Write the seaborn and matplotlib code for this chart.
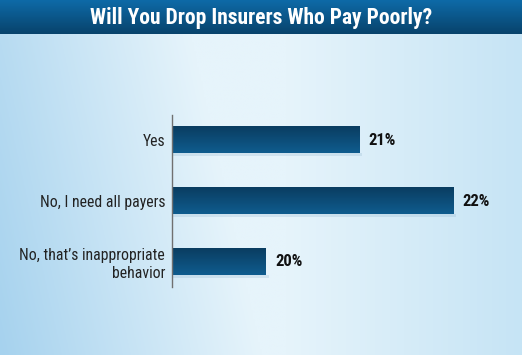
import numpy as np
import pandas as pd
import matplotlib
matplotlib.use("Agg")
import matplotlib.pyplot as plt
from matplotlib.colors import LinearSegmentedColormap
import seaborn as sns
from matplotlib import font_manager

title = "Will You Drop Insurers Who Pay Poorly?"
categories = ["Yes", "No, I need all payers", "No, that\u2019s inappropriate\nbehavior"]
values = [21, 22, 20]
value_labels = ["21%", "22%", "20%"]

sns.set_theme(style="white")
names = {f.name for f in font_manager.fontManager.ttflist}
fam = [n for n in ["Liberation Sans Narrow", "DejaVu Sans Condensed", "Roboto Condensed"] if n in names] + ["DejaVu Sans"]
plt.rcParams["font.family"] = fam

W, H = 522, 355
X0 = 19.0
PX_PER_UNIT = 93.7
fig = plt.figure(figsize=(W / 100, H / 100), dpi=100)

# background gradient
bg = fig.add_axes([0, 0, 1, 1])
bg.set_axis_off()
xs = np.linspace(0, 1, 300)
ys = np.linspace(0, 1, 200)
X, Y = np.meshgrid(xs, ys)
c_left = np.array([0xa6, 0xd2, 0xee]) / 255
c_mid = np.array([0xe6, 0xf4, 0xfb]) / 255
c_right = np.array([0xc6, 0xe4, 0xf5]) / 255
t = np.clip((X + 0.15 * Y) / 0.5, 0, 1)[..., None]
img = c_left * (1 - t) + c_mid * t
t2 = np.clip((X - 0.55) / 0.45, 0, 1)[..., None]
img = img * (1 - t2) + c_right * t2
bg.imshow(img, extent=[0, 1, 0, 1], aspect="auto", origin="lower")
bg.set_xlim(0, 1)
bg.set_ylim(0, 1)

# title bar
tb = fig.add_axes([0, 1 - 34 / H, 1, 34 / H])
tb.set_axis_off()
tcmap = LinearSegmentedColormap.from_list("t", ["#08436c", "#0e6aa7"])
tb.imshow(np.linspace(0, 1, 50)[:, None], cmap=tcmap, extent=[0, 1, 0, 1], aspect="auto", origin="lower")
tb.text(0.5, 0.47, title, color="white", fontsize=15.5, fontweight="bold", ha="center", va="center",
        transform=tb.transAxes)

# main axes
df = pd.DataFrame({"category": categories, "value": values})
ax = fig.add_axes([172 / W, 1 - 287 / H, 1 - 172 / W, 172 / H])
ax.patch.set_alpha(0)
sns.barplot(data=df, x="value", y="category", ax=ax, color="#0c4b78", width=0.43, saturation=1)
xlim = (X0, X0 + (W - 172) / PX_PER_UNIT)
ax.set_xlim(*xlim)
ax.set_ylim(2.41, -0.41)

# dark at top, lighter at bottom
bcmap = LinearSegmentedColormap.from_list("b", ["#0f5c8e", "#0a3d61"])
grad = np.linspace(0, 1, 50)[:, None]
for p, lab in zip(ax.patches, value_labels):
    y0, h = p.get_y(), p.get_height()
    x1 = p.get_width() + p.get_x()
    # soft shadow
    ax.fill_between([X0, x1 + 0.03], y0 + h, y0 + h + 0.05, color="#8fb3cc", alpha=0.25, lw=0, zorder=1)
    p.set_visible(False)
    ax.imshow(grad, cmap=bcmap, extent=[X0, x1, y0 + h, y0], origin="lower",
              aspect="auto", zorder=2)
    ax.text(x1 + 0.1, y0 + h / 2, lab, ha="left", va="center", fontsize=12,
            fontweight="bold", color="#111111")
ax.set_xlim(*xlim)
ax.set_ylim(2.41, -0.41)

ax.set_xlabel("")
ax.set_ylabel("")
ax.set_xticks([])
ax.tick_params(axis="y", length=0, pad=5, labelsize=11.3, labelcolor="#222222")
for lbl in ax.get_yticklabels():
    lbl.set_ha("right")
    lbl.set_multialignment("right")
for s in ["top", "right", "bottom"]:
    ax.spines[s].set_visible(False)
ax.spines["left"].set_color("#707070")
ax.spines["left"].set_linewidth(1.0)

fig.savefig("out.png", dpi=100)
